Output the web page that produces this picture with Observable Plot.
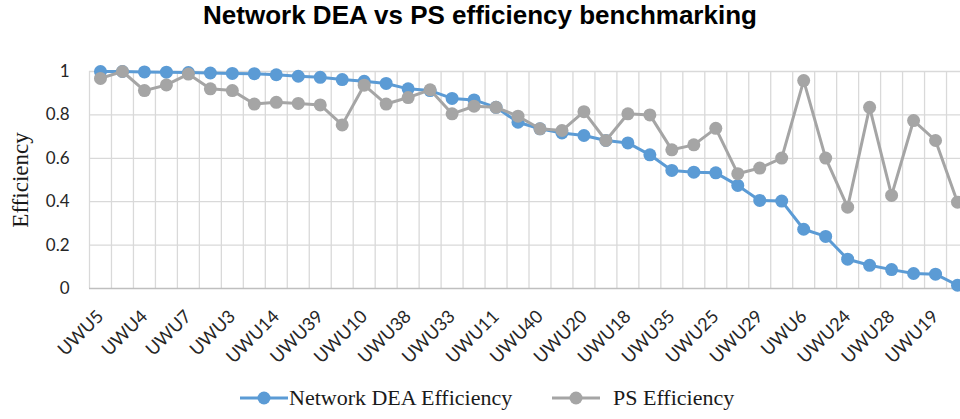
<!DOCTYPE html>
<html>
<head>
<meta charset="utf-8">
<script src="https://cdn.jsdelivr.net/npm/d3@7"></script>
<script src="https://cdn.jsdelivr.net/npm/@observablehq/plot@0.6"></script>
<style>
  html, body { margin: 0; padding: 0; background: #fff; }
  body { width: 960px; height: 419px; overflow: hidden; position: relative; }
  #title { height: 44px; line-height: 44px; text-align: center; font: bold 26px "Liberation Sans", Arial, sans-serif; color: #000; }
  #chart svg { display: block; }
  #chart [aria-label^="x-axis"] text { font-size: 18px; }
  #legend { position: absolute; left: 0; top: 374px; width: 960px; height: 48px; }
  .lg-item { position: absolute; top: 0; height: 48px; display: flex; align-items: center; font: 22px "Liberation Serif", "Times New Roman", serif; color: #1a1a1a; }
  .lg-item svg { display: block; }
</style>
</head>
<body>
<div id="title">Network DEA vs PS efficiency benchmarking</div>
<div id="chart"></div>
<div id="legend"></div>
<script>
// Categories (only every other one is labelled in the source chart)
const categories = [
  "UWU5", "UWU1", "UWU4", "UWU2", "UWU7", "UWU8", "UWU3", "UWU9", "UWU14", "UWU12",
  "UWU39", "UWU13", "UWU10", "UWU15", "UWU38", "UWU16", "UWU33", "UWU17", "UWU11", "UWU21",
  "UWU40", "UWU22", "UWU20", "UWU23", "UWU18", "UWU26", "UWU35", "UWU27", "UWU25", "UWU30",
  "UWU29", "UWU31", "UWU6", "UWU32", "UWU24", "UWU34", "UWU28", "UWU36", "UWU19", "UWU37"
];
const labelledCategories = [
  "UWU5", "UWU4", "UWU7", "UWU3", "UWU14", "UWU39", "UWU10", "UWU38", "UWU33", "UWU11",
  "UWU40", "UWU20", "UWU18", "UWU35", "UWU25", "UWU29", "UWU6", "UWU24", "UWU28", "UWU19"
];
const networkDEA = [
  1.0, 1.0, 0.998, 0.997, 0.995, 0.993, 0.991, 0.99, 0.985, 0.978,
  0.973, 0.963, 0.955, 0.945, 0.92, 0.912, 0.876, 0.869, 0.835, 0.766,
  0.736, 0.717, 0.705, 0.682, 0.671, 0.616, 0.544, 0.536, 0.533, 0.475,
  0.406, 0.403, 0.273, 0.24, 0.135, 0.107, 0.087, 0.069, 0.066, 0.015
];
const psEfficiency = [
  0.968, 1.0, 0.912, 0.938, 0.988, 0.92, 0.912, 0.85, 0.858, 0.853,
  0.846, 0.754, 0.937, 0.85, 0.88, 0.916, 0.805, 0.84, 0.835, 0.794,
  0.736, 0.728, 0.815, 0.682, 0.805, 0.8, 0.639, 0.662, 0.738, 0.529,
  0.555, 0.601, 0.958, 0.601, 0.375, 0.835, 0.429, 0.774, 0.682, 0.398
];
const yTicks = [0, 0.2, 0.4, 0.6, 0.8, 1];
const seriesNames = ["Network DEA Efficiency", "PS Efficiency"];
const seriesColors = ["#5B9BD5", "#A5A5A5"];
const yLabel = "Efficiency";

const rows = categories.map((c, i) => ({cat: c, dea: networkDEA[i], ps: psEfficiency[i]}));
const labelSet = new Set(labelledCategories);

const xRange = [89, 968];
const step = (xRange[1] - xRange[0]) / categories.length;
const gridColor = "#d9d9d9";

const chart = Plot.plot({
  width: 960,
  height: 330,
  marginTop: 27,
  marginBottom: 86,
  marginLeft: 89,
  marginRight: 0,
  style: {fontFamily: "Lato, 'Open Sans', sans-serif", fontSize: "17px", color: "#262626", background: "#fff"},
  x: {
    type: "point", domain: categories, padding: 0.5, range: xRange,
    tickRotate: -45, tickSize: 0, tickPadding: 25,
    tickFormat: d => labelSet.has(d) ? d : "",
    label: null
  },
  y: {
    domain: [0, 1], ticks: yTicks, tickFormat: d => String(d),
    tickSize: 0, tickPadding: 20, label: null
  },
  marks: [
    Plot.ruleY(yTicks.slice(1), {stroke: gridColor, strokeWidth: 1.3}),
    Plot.ruleX(categories, {x: d => d, dx: -step / 2, stroke: gridColor, strokeWidth: 1.3}),
    Plot.ruleX(categories.slice(-1), {x: d => d, dx: step / 2, stroke: gridColor, strokeWidth: 1.3}),
    Plot.ruleY([0], {stroke: "#bfbfbf", strokeWidth: 1.3}),
    Plot.line(rows, {x: "cat", y: "dea", stroke: seriesColors[0], strokeWidth: 3}),
    Plot.dot(rows, {x: "cat", y: "dea", fill: seriesColors[0], r: 6.5}),
    Plot.line(rows, {x: "cat", y: "ps", stroke: seriesColors[1], strokeWidth: 3}),
    Plot.dot(rows, {x: "cat", y: "ps", fill: seriesColors[1], r: 6.5}),
    Plot.text([yLabel], {text: d => d, frameAnchor: "left", textAnchor: "middle", dx: -69, rotate: -90,
      fontFamily: "'Liberation Serif', 'Times New Roman', serif", fontSize: 23, fill: "#1a1a1a"})
  ]
});
document.getElementById("chart").appendChild(chart);

// Legend
const legend = document.getElementById("legend");
const legendLeft = [240, 552];
const legendGap = [1, 13];
seriesNames.forEach((name, i) => {
  const item = document.createElement("div");
  item.className = "lg-item";
  item.style.left = legendLeft[i] + "px";
  const ns = "http://www.w3.org/2000/svg";
  const svg = document.createElementNS(ns, "svg");
  svg.setAttribute("width", 48);
  svg.setAttribute("height", 16);
  svg.style.marginRight = legendGap[i] + "px";
  const line = document.createElementNS(ns, "line");
  line.setAttribute("x1", 0); line.setAttribute("x2", 48);
  line.setAttribute("y1", 8); line.setAttribute("y2", 8);
  line.setAttribute("stroke", seriesColors[i]); line.setAttribute("stroke-width", 3);
  const circ = document.createElementNS(ns, "circle");
  circ.setAttribute("cx", 24); circ.setAttribute("cy", 8); circ.setAttribute("r", 6.5);
  circ.setAttribute("fill", seriesColors[i]);
  svg.appendChild(line); svg.appendChild(circ);
  const span = document.createElement("span");
  span.textContent = name;
  item.appendChild(svg); item.appendChild(span);
  legend.appendChild(item);
});
</script>
</body>
</html>
